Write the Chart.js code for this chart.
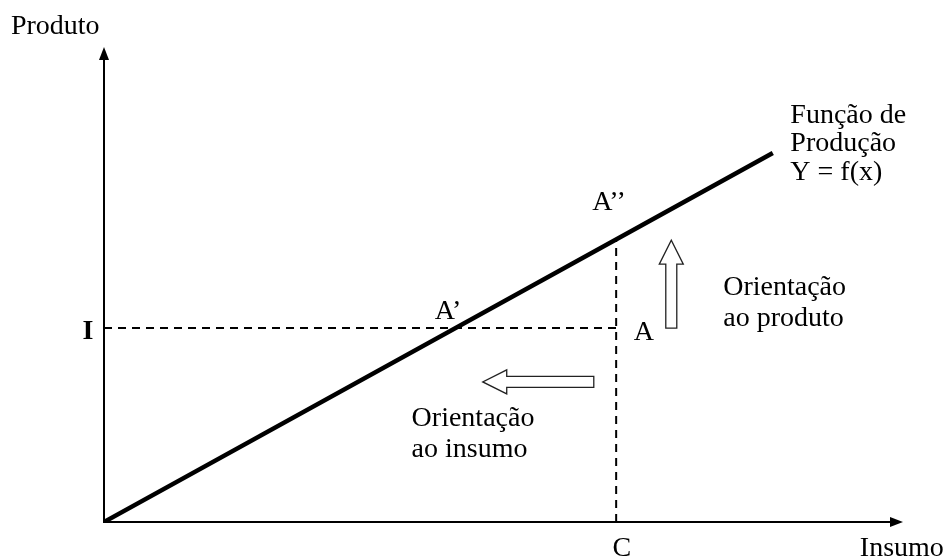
<!DOCTYPE html>
<html>
<head>
<meta charset="utf-8">
<script src="https://cdn.jsdelivr.net/npm/chart.js@4.4.1/dist/chart.umd.min.js"></script>
<style>
  html, body { margin: 0; padding: 0; background: #fff; }
  canvas { display: block; }
</style>
</head>
<body>
<canvas id="myChart" width="945" height="557"></canvas>
<script>
// production function Y = f(x), straight line from the origin
const prodLine = [{ x: 0, y: 0 }, { x: 8.37, y: 4.66 }];
// reference levels: input C and output I
const inputC = 6.41;
const outputI = 2.45;
const pointA2 = 3.57; // y of A'' on the line at C
const guideH = [{ x: 0, y: outputI }, { x: inputC, y: outputI }];
const guideV = [{ x: inputC, y: 0 }, { x: inputC, y: pointA2 }];
// hollow arrows: [from, to]
const arrowProduct = [{ x: 7.1, y: 2.45 }, { x: 7.1, y: 3.56 }];
const arrowInput = [{ x: 6.13, y: 1.77 }, { x: 4.74, y: 1.77 }];
// text labels in data units (y = middle of capitals)
const labels = [
  { text: "Produto", x: -0.61, y: 6.28, align: "center" },
  { text: "I", x: -0.2, y: 2.43, align: "center", bold: true },
  { text: "C", x: 6.48, y: -0.31, align: "center" },
  { text: "Insumo", x: 9.46, y: -0.31, align: "left" },
  { text: "Função de", x: 8.59, y: 5.16, align: "left" },
  { text: "Produção", x: 8.59, y: 4.8, align: "left" },
  { text: "Y = f(x)", x: 8.59, y: 4.43, align: "left" },
  { text: "A’’", x: 6.11, y: 4.05, align: "left" },
  { text: "A’", x: 4.14, y: 2.68, align: "left" },
  { text: "A", x: 6.63, y: 2.41, align: "left" },
  { text: "Orientação", x: 7.75, y: 2.98, align: "left" },
  { text: "ao produto", x: 7.75, y: 2.59, align: "left" },
  { text: "Orientação", x: 3.85, y: 1.33, align: "left" },
  { text: "ao insumo", x: 3.85, y: 0.94, align: "left" }
];

const drawing = {
  id: "drawing",
  afterDatasetsDraw(chart) {
    const ctx = chart.ctx;
    const area = chart.chartArea;
    const sx = chart.scales.x;
    const sy = chart.scales.y;
    ctx.save();

    // axes with arrow heads
    ctx.strokeStyle = "#000";
    ctx.fillStyle = "#000";
    ctx.lineWidth = 2;
    ctx.beginPath();
    ctx.moveTo(area.left, area.top + 10);
    ctx.lineTo(area.left, area.bottom);
    ctx.lineTo(area.right - 10, area.bottom);
    ctx.stroke();
    ctx.beginPath();
    ctx.moveTo(area.left, area.top);
    ctx.lineTo(area.left - 5, area.top + 13);
    ctx.lineTo(area.left + 5, area.top + 13);
    ctx.closePath();
    ctx.fill();
    ctx.beginPath();
    ctx.moveTo(area.right, area.bottom);
    ctx.lineTo(area.right - 13, area.bottom - 5);
    ctx.lineTo(area.right - 13, area.bottom + 5);
    ctx.closePath();
    ctx.fill();

    // hollow block arrows
    ctx.lineWidth = 1.3;
    ctx.strokeStyle = "#222";
    ctx.fillStyle = "#fff";
    function hollow(a) {
      const x0 = sx.getPixelForValue(a[0].x), y0 = sy.getPixelForValue(a[0].y);
      const x1 = sx.getPixelForValue(a[1].x), y1 = sy.getPixelForValue(a[1].y);
      const len = Math.hypot(x1 - x0, y1 - y0);
      const ang = Math.atan2(y1 - y0, x1 - x0);
      const head = 24, hw = 12, sw = 5.5;
      ctx.save();
      ctx.translate(x0, y0);
      ctx.rotate(ang);
      ctx.beginPath();
      ctx.moveTo(0, -sw);
      ctx.lineTo(len - head, -sw);
      ctx.lineTo(len - head, -hw);
      ctx.lineTo(len, 0);
      ctx.lineTo(len - head, hw);
      ctx.lineTo(len - head, sw);
      ctx.lineTo(0, sw);
      ctx.closePath();
      ctx.fill();
      ctx.stroke();
      ctx.restore();
    }
    hollow(arrowProduct);
    hollow(arrowInput);

    // labels, positioned by the middle of the capitals
    ctx.fillStyle = "#000";
    ctx.textBaseline = "alphabetic";
    labels.forEach(function (l) {
      ctx.font = (l.bold ? "bold " : "") + "28px 'Liberation Serif'";
      ctx.textAlign = l.align;
      const capH = ctx.measureText("H").actualBoundingBoxAscent;
      ctx.fillText(l.text, sx.getPixelForValue(l.x), sy.getPixelForValue(l.y) + capH / 2);
    });
    ctx.restore();
  }
};

const ctx = document.getElementById("myChart").getContext("2d");

const myChart = new Chart(ctx, {
  type: "scatter",
  data: {
    datasets: [
      {
        data: prodLine,
        showLine: true,
        borderColor: "#000",
        borderWidth: 4.5,
        pointRadius: 0
      },
      {
        data: guideH,
        showLine: true,
        borderColor: "#000",
        borderWidth: 2,
        borderDash: [8, 6],
        pointRadius: 0
      },
      {
        data: guideV,
        showLine: true,
        borderColor: "#000",
        borderWidth: 2,
        borderDash: [8, 6],
        pointRadius: 0
      }
    ]
  },
  options: {
    responsive: false,
    animation: false,
    layout: { padding: { left: 104, right: 42, top: 47, bottom: 35 } },
    plugins: { legend: { display: false }, tooltip: { enabled: false } },
    scales: {
      x: { type: "linear", min: 0, max: 10, display: false },
      y: { type: "linear", min: 0, max: 6, display: false }
    }
  },
  plugins: [drawing]
});
</script>
</body>
</html>
